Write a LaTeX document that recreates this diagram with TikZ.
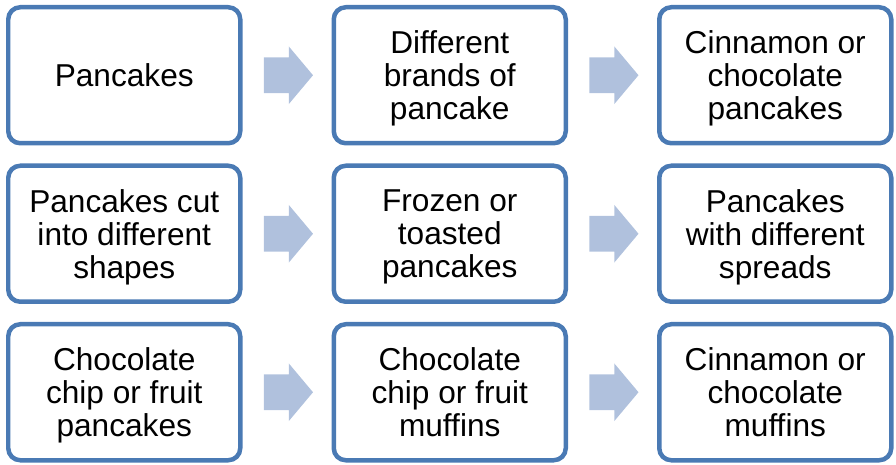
\documentclass[tikz,border=0pt]{standalone}
\usepackage{fontspec}
\setmainfont{Liberation Sans}
\usetikzlibrary{positioning,shapes.arrows}
\definecolor{BoxLine}{RGB}{74, 122, 180}
\definecolor{ArrowFill}{RGB}{176, 193, 221}
\newcommand{\pbox}[3]{
    \node(#1)[
        draw=BoxLine,
        line width=0.09cm,
        rounded corners=0.24cm,
        minimum width=4.64cm,
        minimum height=2.72cm,
        %text centered,
        text depth=0pt,
        align=center,
        fill=white,
        font=\fontsize{18pt}{18.8pt}\selectfont,
        #2
    ]{#3};
}
\tikzset{
    blockarrow/.style={
        single arrow,
        fill=ArrowFill,
        draw=none,
        inner xsep=0pt,
        inner ysep=0.35cm,
        minimum height=0.98cm,
        single arrow head extend=0.22cm,
        single arrow tip angle=100,
        anchor=center,
        xshift=-0.12cm
    }
}

\begin{document}
\begin{tikzpicture}
	\useasboundingbox (0,0) rectangle (17.92,-9.30);

	\pbox{pancakes}{at={(2.485,-1.505)}}{Pancakes}
	\pbox{brands}{right=1.78cm of pancakes}{Different\\brands of\\pancake}
	\pbox{cinnpan}{right=1.78cm of brands}{Cinnamon or\\chocolate\\pancakes}

	\pbox{shapes}{below=0.36cm of pancakes}{Pancakes cut\\into different\\shapes}
	\pbox{frozen}{below=0.36cm of brands}{Frozen or\\toasted\\pancakes}
	\pbox{spreads}{below=0.36cm of cinnpan}{Pancakes\\with different\\spreads}

	\pbox{chippan}{below=0.36cm of shapes}{Chocolate\\chip or fruit\\pancakes}
	\pbox{chipmuf}{below=0.36cm of frozen}{Chocolate\\chip or fruit\\muffins}
	\pbox{cinnmuf}{below=0.36cm of spreads}{Cinnamon or\\chocolate\\muffins}

	% block arrows between the boxes
	\path (pancakes) -- node[blockarrow] (a1) {} (brands);
	\path (brands) -- node[blockarrow] (a2) {} (cinnpan);
	\path (shapes) -- node[blockarrow] (a3) {} (frozen);
	\path (frozen) -- node[blockarrow] (a4) {} (spreads);
	\path (chippan) -- node[blockarrow] (a5) {} (chipmuf);
	\path (chipmuf) -- node[blockarrow] (a6) {} (cinnmuf);
\end{tikzpicture}
\end{document}
